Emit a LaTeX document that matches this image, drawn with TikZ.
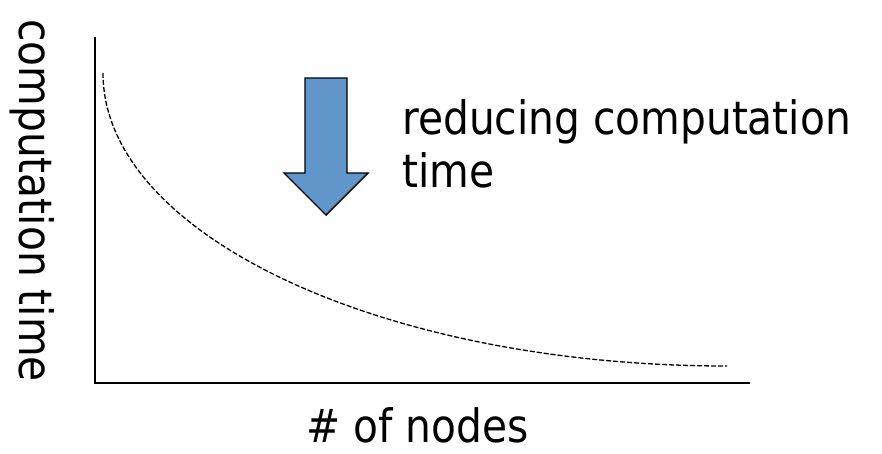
\documentclass[tikz,border=0pt]{standalone}
\usepackage{fontspec}
\setmainfont{DejaVu Sans}[FakeStretch=0.886]
\begin{document}
\begin{tikzpicture}[x=1pt,y=-1pt,
  axisline/.style={line width=1.6pt, black},
  trend/.style={line width=1.3pt, dash pattern=on 5pt off 2pt},
  bigarrow/.style={draw=black, line width=1.4pt, fill=arrowblue, line join=miter},
  lbl/.style={inner sep=0pt, font=\fontsize{46}{53}\selectfont}]
\definecolor{arrowblue}{RGB}{96,150,201}
\useasboundingbox (0,0) rectangle (882,453);

% axes
\coordinate (ytop) at (95,37);
\coordinate (origin) at (95,383);
\coordinate (xend) at (750,383);
\draw[axisline] (ytop) -- (origin) -- (xend);

% decreasing trend: a quarter of an ellipse, vertical at the start, flat at the end
\coordinate (trendstart) at (103,73);
\draw[trend] (trendstart) arc[start angle=180, end angle=270,
  x radius=624pt, y radius=293pt];

% downward block arrow
\draw[bigarrow] (305,78) -- (347,78) -- (347,173) -- (368,173)
  -- (326,215) -- (284,173) -- (305,173) -- cycle;

% labels
\node[lbl, anchor=base west] (note1) at (402,134) {reducing computation};
\node[lbl, anchor=base west] (note2) at (402,187) {time};
\node[lbl, anchor=base west] (xlabel) at (306,442) {\# of nodes};
\node[lbl, anchor=base west, rotate=-90] (ylabel) at (19,19) {computation time};
\end{tikzpicture}
\end{document}
